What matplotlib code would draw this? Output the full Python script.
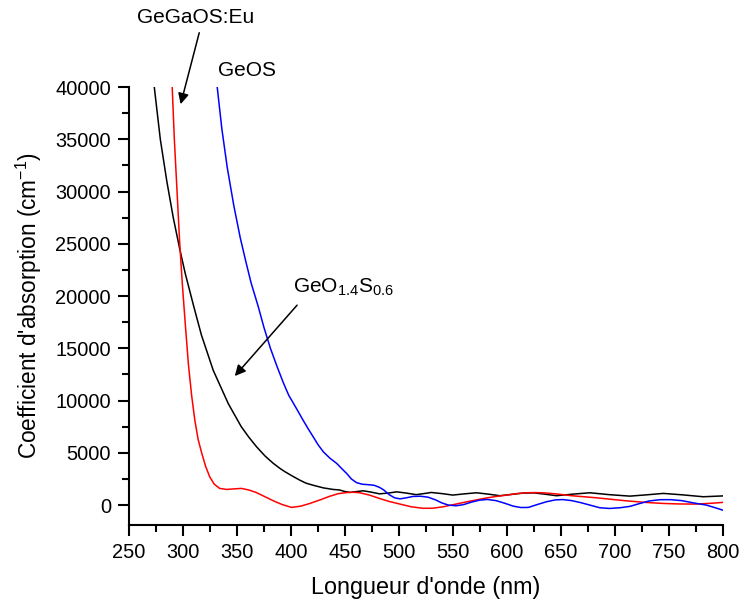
import numpy as np
import matplotlib
matplotlib.use('Agg')
import matplotlib.pyplot as plt

plt.rcParams['font.family'] = ['Liberation Sans', 'DejaVu Sans']
plt.rcParams['mathtext.default'] = 'regular'

##
#   Values
#   GeO1.4S0.6 (black)
wl_geo14 = [273.4, 279, 285, 291, 297, 302, 310, 317, 328, 342, 348, 354, 361, 368,
            376, 383.6, 390, 394.4, 401, 408, 414, 420.6, 430, 439, 445, 450, 455,
            461, 467, 474, 482, 490, 498, 507, 516, 523, 530, 540, 550, 561, 572,
            583, 593.5, 604, 615, 625, 635, 646, 661, 677, 695, 714, 729, 745, 763,
            782, 800]
ab_geo14 = [40000, 35000, 31000, 27500, 24500, 22200, 19000, 16300, 12900, 9700, 8600,
            7500, 6500, 5600, 4700, 4000, 3500, 3200, 2800, 2400, 2100, 1900, 1650,
            1500, 1450, 1300, 1220, 1300, 1370, 1250, 1080, 1150, 1270, 1150, 1000,
            1100, 1210, 1100, 960, 1080, 1180, 1050, 900, 1020, 1150, 1170, 1050, 900,
            1050, 1180, 1000, 860, 980, 1120, 980, 800, 880]

#   GeGaOS:Eu (red)
wl_gegaos = [290, 292, 294.5, 297, 299.5, 302, 305, 308, 311, 314, 317.3, 321, 324.8,
             329, 334, 340.5, 347, 354, 361, 368, 376, 384, 392, 400.6, 409, 417.6,
             427, 436, 444, 451.6, 458, 464, 473, 482, 491, 501, 511, 522, 531, 541,
             552, 563, 572, 581, 590, 600, 609, 618, 626, 635, 645, 660, 683, 700,
             714, 730, 745, 760, 775, 790, 800]
ab_gegaos = [40000, 35000, 30000, 25000, 21000, 17500, 13500, 10500, 8100, 6300, 5000,
             3700, 2700, 2000, 1600, 1500, 1550, 1600, 1450, 1200, 800, 400, 50, -220,
             -100, 160, 500, 850, 1100, 1200, 1230, 1180, 950, 640, 350, 100, -150,
             -300, -300, -160, 80, 320, 500, 680, 830, 960, 1100, 1180, 1200, 1170,
             1080, 900, 700, 520, 380, 250, 160, 110, 100, 180, 260]

#   GeOS (blue)
wl_geos = [331.7, 336, 341, 347, 353, 358, 363, 369.7, 375, 381, 387, 393, 398, 402,
           407, 411.4, 416, 420.6, 425, 430, 436, 442.3, 447, 451.6, 456, 460.8, 466,
           472, 477, 482, 486, 491, 496, 501, 507, 513, 520, 527, 534, 540, 546, 553,
           560, 567, 575, 582, 590, 598, 606, 613, 620, 628, 637, 645, 652, 660, 668,
           676, 686, 695, 705, 714, 723, 732, 742, 752, 762, 772, 785, 793, 800]
ab_geos = [40000, 36000, 32300, 28700, 25600, 23400, 21300, 19000, 17000, 15000, 13300,
           11700, 10500, 9800, 8900, 8100, 7300, 6540, 5800, 5100, 4500, 4000, 3500,
           3030, 2500, 2150, 2000, 1950, 1900, 1700, 1450, 1000, 700, 600, 700, 830,
           850, 760, 500, 200, 0, -60, 50, 280, 480, 540, 430, 180, -100, -230, -220,
           50, 330, 500, 530, 430, 250, 30, -250, -320, -250, -120, 150, 400, 520,
           520, 430, 230, 0, -250, -480]

xticks = np.arange(250, 801, 50)
yticks = np.arange(0, 40001, 5000)

fig = plt.figure(figsize=(7.44, 6.06), dpi=100)
ax = fig.add_axes([0.1734, 0.1337, 0.798, 0.7227])

ax.plot(wl_geo14, ab_geo14, color='black', lw=1.1)
ax.plot(wl_gegaos, ab_gegaos, color='red', lw=1.1)
ax.plot(wl_geos, ab_geos, color='blue', lw=1.1)

ax.set_xlim(250, 800)
ax.set_ylim(-1900, 40000)
ax.set_xticks(xticks)
ax.set_yticks(yticks)
ax.set_xticks(np.arange(275, 800, 50), minor=True)
ax.set_yticks(np.arange(2500, 40000, 5000), minor=True)

#   Origin-like axes: only left and bottom
ax.spines['top'].set_visible(False)
ax.spines['right'].set_visible(False)
for s in ['left', 'bottom']:
    ax.spines[s].set_linewidth(1.5)
ax.tick_params(which='major', direction='out', length=8, width=1.5, labelsize=14.4, pad=5)
ax.tick_params(which='minor', direction='out', length=5, width=1.5)

ax.set_xlabel("Longueur d'onde (nm)", fontsize=16.8, labelpad=10)
ax.set_ylabel("Coefficient d'absorption (cm$^{-1}$)", fontsize=16.3, labelpad=8)

#   labels with arrows
ax.text(312, 46650, 'GeGaOS:Eu', fontsize=15, ha='center', va='center')
ax.annotate('', xy=(297.2, 38100), xytext=(315.7, 45450),
            arrowprops=dict(arrowstyle='-|>', color='black', lw=1.1, mutation_scale=16))
ax.text(332.4, 41550, 'GeOS', fontsize=15, ha='left', va='center')
ax.text(402, 20800, 'GeO$_{1.4}$S$_{0.6}$', fontsize=15, ha='left', va='center')
ax.annotate('', xy=(346.3, 12150), xytext=(407.4, 19330),
            arrowprops=dict(arrowstyle='-|>', color='black', lw=1.1, mutation_scale=16))

fig.savefig('out.png', dpi=100)
